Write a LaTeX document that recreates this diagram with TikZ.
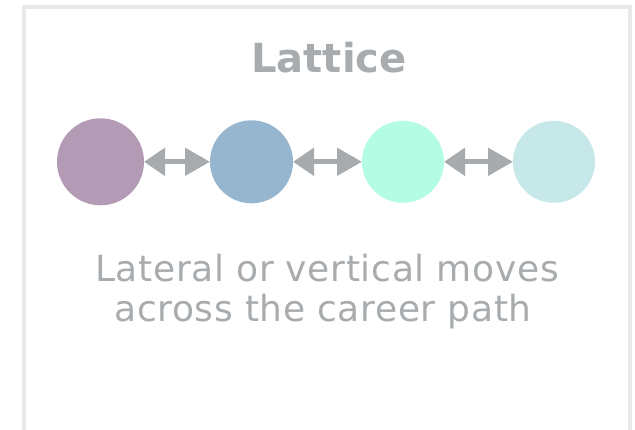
\documentclass[tikz,border=0pt]{standalone}
\usepackage{fontspec}
\setmainfont{DejaVu Sans}
\usetikzlibrary{arrows.meta}

\definecolor{framegray}{HTML}{E7E8E9}
\definecolor{textgray}{HTML}{A8ACAF}
\definecolor{arrowgray}{HTML}{A7ABAE}
\definecolor{mauve}{HTML}{B39BB5}
\definecolor{steel}{HTML}{96B6CF}
\definecolor{mint}{HTML}{B4FCE4}
\definecolor{paleteal}{HTML}{C6E8E8}

\begin{document}
\begin{tikzpicture}[x=1pt, y=-1pt,
        dot/.style={shape=circle, inner sep=0pt, outer sep=0pt},
        move/.style={arrowgray, line width=5pt,
            {Triangle[length=21pt,width=27pt]}-{Triangle[length=25pt,width=27pt]}},
        caption/.style={anchor=base, textgray, font=\fontsize{36}{41}\selectfont\addfontfeatures{LetterSpace=1.8}}]
            \useasboundingbox[fill=white] (0,0) rectangle (635,429);
            \draw[framegray, line width=3.5pt] (23.75,432) -- (23.75,6.75) -- (630,6.75) -- (630,432);

            \node[anchor=base, textgray, font=\bfseries\fontsize{40}{48}\selectfont] (T) at (329,72.7) {Lattice};

            \node[dot, fill=mauve, minimum size=87pt] (C1) at (100.5,161.8) {};
            \node[dot, fill=steel, minimum size=83pt] (C2) at (251.5,161.8) {};
            \node[dot, fill=mint, minimum size=82pt] (C3) at (403,161.8) {};
            \node[dot, fill=paleteal, minimum size=82pt] (C4) at (554,161.8) {};

            \draw[move] (C1) -- (C2);
            \draw[move] (C2) -- (C3);
            \draw[move] (C3) -- (C4);

            \node[caption] (L1) at (327,281) {Lateral or vertical moves};
            \node[caption] (L2) at (323,321.7) {across the career path};
        \end{tikzpicture}
\end{document}
